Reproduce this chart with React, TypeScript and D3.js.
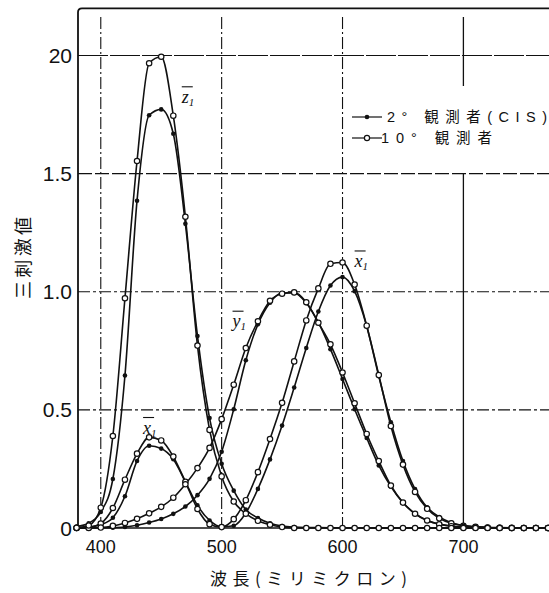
import * as d3 from "d3";

// wavelength (nm), 10 nm steps
const wavelengths = [
  380, 390, 400, 410, 420, 430, 440, 450, 460, 470, 480, 490, 500, 510, 520, 530, 540, 550, 560, 570,
  580, 590, 600, 610, 620, 630, 640, 650, 660, 670, 680, 690, 700, 710, 720, 730, 740, 750, 760, 770, 780,
];

// 2° observer (filled dots)
const x2 = [
  0.0014, 0.0042, 0.0143, 0.0435, 0.1344, 0.2839, 0.3483, 0.3362, 0.2908, 0.1954, 0.0956, 0.032, 0.0049,
  0.0093, 0.0633, 0.1655, 0.2904, 0.4334, 0.5945, 0.7621, 0.9163, 1.0263, 1.0622, 1.0026, 0.8544, 0.6424,
  0.4479, 0.2835, 0.1649, 0.0874, 0.0468, 0.0227, 0.0114, 0.0058, 0.0029, 0.0014, 0.0007, 0.0003, 0.0002,
  0.0001, 0,
];
const y2 = [
  0, 0.0001, 0.0004, 0.0012, 0.004, 0.0116, 0.023, 0.038, 0.06, 0.091, 0.139, 0.208, 0.323, 0.503, 0.71,
  0.862, 0.954, 0.995, 0.995, 0.952, 0.87, 0.757, 0.631, 0.503, 0.381, 0.265, 0.175, 0.107, 0.061, 0.032,
  0.017, 0.0082, 0.0041, 0.0021, 0.001, 0.0005, 0.0002, 0.0001, 0.0001, 0, 0,
];
const z2 = [
  0.0065, 0.0201, 0.0679, 0.2074, 0.6456, 1.3856, 1.7471, 1.7721, 1.6692, 1.2876, 0.813, 0.4652, 0.272,
  0.1582, 0.0782, 0.0422, 0.0203, 0.0087, 0.0039, 0.0021, 0.0017, 0.0011, 0.0008, 0.0003, 0.0002, 0, 0, 0,
  0, 0, 0, 0, 0, 0, 0, 0, 0, 0, 0, 0, 0,
];

// 10° observer (open circles)
const x10 = [
  0.0002, 0.0024, 0.0191, 0.0847, 0.2045, 0.3147, 0.3837, 0.3707, 0.3023, 0.1956, 0.0805, 0.0162, 0.0038,
  0.0375, 0.1177, 0.2365, 0.3768, 0.5298, 0.7052, 0.8787, 1.0142, 1.1185, 1.124, 1.0305, 0.8563, 0.6475,
  0.4316, 0.2683, 0.1526, 0.0813, 0.0409, 0.0199, 0.0096, 0.0046, 0.0022, 0.001, 0.0005, 0.0003, 0.0001,
  0.0001, 0,
];
const y10 = [
  0, 0.0003, 0.002, 0.0088, 0.0214, 0.0387, 0.0621, 0.0895, 0.1282, 0.1852, 0.2536, 0.3391, 0.4608, 0.6067,
  0.7618, 0.8752, 0.962, 0.9918, 0.9973, 0.9556, 0.8689, 0.7774, 0.6583, 0.528, 0.3981, 0.2835, 0.1798,
  0.1076, 0.0603, 0.0318, 0.0159, 0.0077, 0.0037, 0.0018, 0.0008, 0.0004, 0.0002, 0.0001, 0, 0, 0,
];
const z10 = [
  0.0007, 0.0105, 0.086, 0.3894, 0.9725, 1.5535, 1.9673, 1.9948, 1.7454, 1.3176, 0.7721, 0.4153, 0.2185,
  0.112, 0.0607, 0.0305, 0.0137, 0.004, 0, 0, 0, 0, 0, 0, 0, 0, 0, 0, 0, 0, 0, 0, 0, 0, 0, 0, 0, 0, 0, 0, 0,
];

const xTicks = [400, 500, 600, 700];
const yTicks = [0, 0.5, 1.0, 1.5, 2.0];
const yTickLabels = ["0", "0.5", "1.0", "1.5", "20"];
// legend: [angle, observer word, suffix]
const legendParts = [
  ["2°", "観測者", "(CIS)"],
  ["10°", "観測者", ""],
];
const xTitle = "波長(ミリミクロン)";
const yTitle = "三刺激値";

const W = 549;
const H = 593;
const NUM = "'Liberation Sans', Arial, sans-serif";
const JP = "'Noto Sans CJK JP', 'Noto Sans CJK SC', sans-serif";

export default function App() {
  const x = d3.scaleLinear().domain([380, 780]).range([76.6, 560.1]);
  const y = d3.scaleLinear().domain([0, 2.2]).range([528, 8.3]);

  const left = 78;
  const right = W;
  const line = d3
    .line<number>()
    .x((_, i) => x(wavelengths[i]))
    .y((d) => y(d))
    .curve(d3.curveMonotoneX);

  const filled = [x2, y2, z2];
  const open = [x10, y10, z10];

  const vDash = (t: number) => (t === 700 ? undefined : "12,3,2,3");
  const hDash = (t: number) => (t === 2.0 ? "30,2" : t === 1.5 ? "14,3" : "12,3,3,3");

  // curve labels: letter, anchor in data space
  const curveLabels = [
    { letter: "z", lam: 467, v: 1.8 },
    { letter: "x", lam: 610, v: 1.105 },
    { letter: "y", lam: 509, v: 0.85 },
    { letter: "x", lam: 435, v: 0.4 },
  ];

  return (
    <svg width={W} height={H} style={{ position: "absolute", left: 0, top: 0, background: "#fff" }}>
      <rect width={W} height={H} fill="#fff" />

      {/* grid */}
      {xTicks.map((t) => (
        <line
          key={"v" + t}
          x1={x(t)}
          x2={x(t)}
          y1={17}
          y2={y(0)}
          stroke="#111"
          strokeWidth={t === 700 ? 1.3 : 1.1}
          strokeDasharray={vDash(t)}
        />
      ))}
      {yTicks
        .filter((t) => t > 0)
        .map((t) => (
          <line
            key={"h" + t}
            x1={left}
            x2={right}
            y1={y(t)}
            y2={y(t)}
            stroke="#111"
            strokeWidth={1.1}
            strokeDasharray={hDash(t)}
          />
        ))}

      {/* frame */}
      <path
        d={`M${left},${y(0)} V${y(2.2) + 4} Q${left},${y(2.2)} ${left + 4},${y(2.2)} H${right}`}
        fill="none"
        stroke="#111"
        strokeWidth={1.8}
      />
      <line x1={left} x2={right} y1={y(0)} y2={y(0)} stroke="#111" strokeWidth={1.6} />

      {/* legend box */}
      <rect x={348} y={86} width={W - 348} height={87} fill="#fff" />
      {legendParts.map((parts, i) => {
        const cy = 117 + i * 21;
        return (
          <g key={"lg" + i}>
            <line x1={352} x2={382} y1={cy} y2={cy} stroke="#111" strokeWidth={1.2} />
            {i === 0 ? (
              <circle cx={367} cy={cy} r={2.3} fill="#111" />
            ) : (
              <circle cx={367} cy={cy} r={2.6} fill="#fff" stroke="#111" strokeWidth={1.2} />
            )}
            <text
              x={i === 0 ? 387 : 381}
              y={cy}
              dy="0.36em"
              fontSize={14.5}
              fill="#111"
              textLength={i === 0 ? 160 : 111}
              lengthAdjust="spacing"
            >
              <tspan fontFamily={NUM}>{parts[0]} </tspan>
              <tspan fontFamily={JP}>{parts[1]}</tspan>
              {parts[2] ? <tspan fontFamily={NUM}>{parts[2]}</tspan> : null}
            </text>
          </g>
        );
      })}

      {/* curves */}
      {[...filled, ...open].map((s, k) => (
        <path key={"c" + k} d={line(s) ?? ""} fill="none" stroke="#111" strokeWidth={1.6} />
      ))}
      {filled.map((s, k) =>
        s.map((v, i) => (
          <circle key={`f${k}-${i}`} cx={x(wavelengths[i])} cy={y(v)} r={2.3} fill="#111" />
        ))
      )}
      {open.map((s, k) =>
        s.map((v, i) => (
          <circle
            key={`o${k}-${i}`}
            cx={x(wavelengths[i])}
            cy={y(v)}
            r={2.7}
            fill="#fff"
            stroke="#111"
            strokeWidth={1.2}
          />
        ))
      )}

      {/* curve labels */}
      {curveLabels.map((c, i) => {
        const px = x(c.lam);
        const py = y(c.v);
        return (
          <g key={"l" + i} fill="#111">
            <line x1={px} x2={px + 11} y1={py - 16} y2={py - 16} stroke="#111" strokeWidth={1.1} />
            <text x={px} y={py} fontFamily="'Liberation Serif', serif" fontStyle="italic" fontSize={18}>
              {c.letter}
              <tspan fontSize={11} dy={3}>
                1
              </tspan>
            </text>
          </g>
        );
      })}

      {/* axis tick labels */}
      {yTicks.map((t, i) => (
        <text
          key={"yt" + t}
          x={72}
          y={y(t)}
          dy="0.36em"
          textAnchor="end"
          fontFamily={NUM}
          fontSize={21}
          fill="#111"
        >
          {yTickLabels[i]}
        </text>
      ))}
      {xTicks.map((t) => (
        <text key={"xt" + t} x={x(t)} y={553} textAnchor="middle" fontFamily={NUM} fontSize={18} fill="#111">
          {t}
        </text>
      ))}

      {/* axis titles */}
      <text x={210} y={585} fontFamily={JP} fontSize={17} fill="#111" textLength={197} lengthAdjust="spacing">
        {xTitle}
      </text>
      <text
        transform="translate(30,258) rotate(-90)"
        textAnchor="middle"
        fontFamily={JP}
        fontSize={18}
        fill="#111"
        textLength={82}
        lengthAdjust="spacing"
      >
        {yTitle}
      </text>
    </svg>
  );
}
